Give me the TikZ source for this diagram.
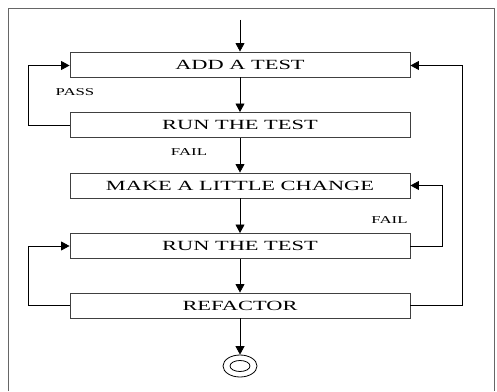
\documentclass[tikz,border=0pt]{standalone}
\usepackage{fontspec}
\newfontfamily\stepfont[FakeStretch=1.6]{Liberation Serif}
\usetikzlibrary{positioning, arrows.meta, shapes.geometric}
\tikzset{
->, % every connector is directed
>={Triangle[length=8.5pt,width=9pt]}, % filled arrow heads
x=1pt, y=1pt,
node distance=60.5pt, % centre to centre of two boxes
stepbox/.style={draw=black!75, line width=0.9pt, minimum width=340pt, minimum height=25pt, inner sep=0pt, font=\stepfont\fontsize{14}{16}\selectfont},
edgelabel/.style={font=\stepfont\fontsize{10.5}{12}\selectfont},
}
\begin{document}
\begin{tikzpicture}[line width=0.8pt]
\useasboundingbox (0,0) rectangle (497,391);
\draw[-, black!60] (8,0) -- (8,383) -- (494,383) -- (494,0);

\coordinate (start) at (240,371);
\node[stepbox] (add) at (240,326.5) {ADD A TEST};
\node[stepbox, below of=add] (run1) {RUN THE TEST};
\node[stepbox, below of=run1] (change) {MAKE A LITTLE CHANGE};
\node[stepbox, below of=change] (run2) {RUN THE TEST};
\node[stepbox, below of=run2, yshift=1pt] (refactor) {REFACTOR};
\node[draw, ellipse, minimum width=34pt, minimum height=22pt, inner sep=0pt] (done) at (240,25) {};
\node[draw, ellipse, minimum width=20pt, minimum height=11pt, inner sep=0pt] (done in) at (done) {};

\node[edgelabel] (pass) at (75,299) {PASS};
\node[edgelabel] (fail1) at (189,239) {FAIL};
\node[edgelabel] (fail2) at (389.5,170.5) {FAIL};

\draw (start) -- (add);
\draw (add) -- (run1);
\draw (run1) -- (change);
\draw (change) -- (run2);
\draw (run2) -- (refactor);
\draw (refactor) -- (done);

\draw (run1.west) -- ++(-41,0) |- ([yshift=-1pt]add.west);
\draw (refactor.west) -- ++(-41,0) |- (run2.west);
\draw (run2.east) -- ++(32,0) |- (change.east);
\draw (refactor.east) -- ++(52,0) |- ([yshift=-1pt]add.east);
\end{tikzpicture}
\end{document}
